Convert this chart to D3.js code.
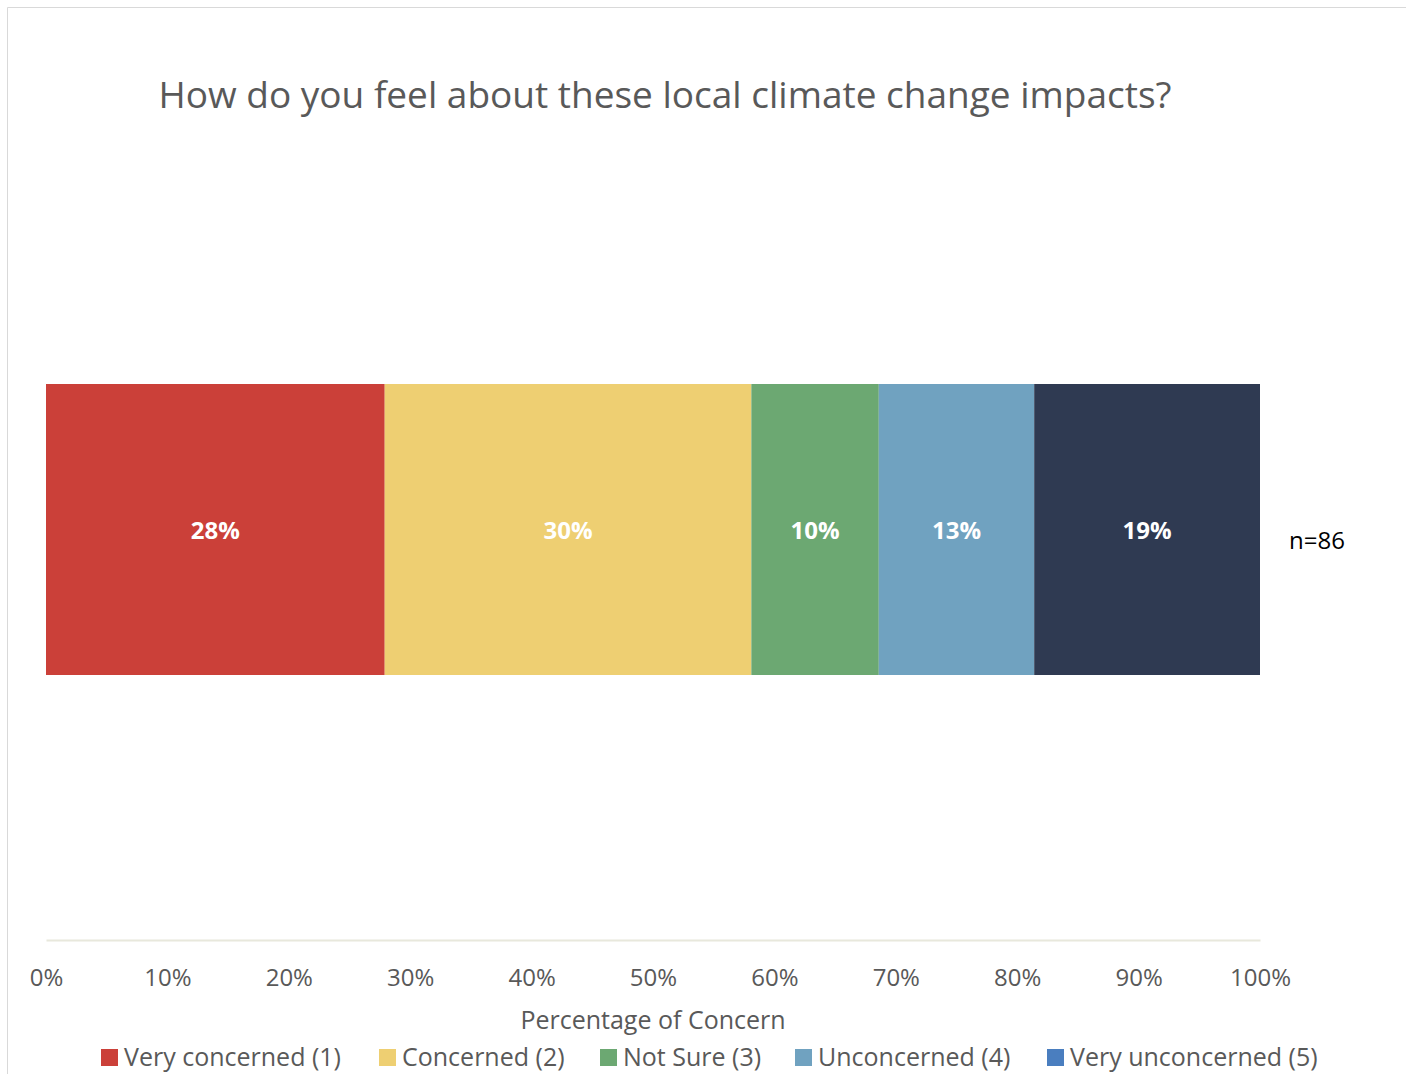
<!DOCTYPE html>
<html><head><meta charset="utf-8">
<script src="https://cdn.jsdelivr.net/npm/d3@7"></script>
<style>body{margin:0;background:#fff;font-family:"Open Sans",sans-serif;}</style>
</head><body><div id="chart"></div>
<script>
const categories = ["Very concerned (1)", "Concerned (2)", "Not Sure (3)", "Unconcerned (4)", "Very unconcerned (5)"];
const values = [27.9, 30.2, 10.5, 12.8, 18.6];
const labels = ["28%", "30%", "10%", "13%", "19%"];
const colors = ["#cb4039", "#eecf72", "#6ca872", "#70a2c0", "#2f3a52"];
const legendColors = ["#cb4039", "#eecf72", "#6ca872", "#70a2c0", "#4a7ebf"];
const ticks = [0, 10, 20, 30, 40, 50, 60, 70, 80, 90, 100];

const width = 1406, height = 1074;
const margin = {left: 46, right: 146};

const viz = d3.select("#chart").append("svg")
    .attr("width", width).attr("height", height);

viz.append("path").attr("d", "M7.5,1074 V7.5 H1406")
    .attr("fill", "none").attr("stroke", "#d9d9d9");

viz.append("text").attr("x", 665).attr("y", 108).attr("text-anchor", "middle")
    .attr("font-size", 37).attr("fill", "#595959")
    .text("How do you feel about these local climate change impacts?");

const xScale = d3.scaleLinear().domain([0, 100]).range([margin.left, width - margin.right]);

// stacked segments
let acc = 0;
const segs = values.map(function(v, i) {
    const s = {start: acc, end: acc + v, i: i};
    acc += v;
    return s;
});

viz.selectAll("rect.seg").data(segs).enter().append("rect")
    .attr("class", "seg")
    .attr("x", function(d) { return xScale(d.start); })
    .attr("width", function(d) { return xScale(d.end) - xScale(d.start); })
    .attr("y", 384).attr("height", 291)
    .attr("fill", function(d) { return colors[d.i]; });

viz.selectAll("text.lab").data(segs).enter().append("text")
    .attr("x", function(d) { return (xScale(d.start) + xScale(d.end)) / 2; })
    .attr("y", 539).attr("text-anchor", "middle")
    .attr("font-size", 24).attr("font-weight", "bold").attr("fill", "#fff")
    .text(function(d) { return labels[d.i]; });

viz.append("text").attr("x", 1289).attr("y", 549)
    .attr("font-size", 24).attr("fill", "#000").text("n=86");

// axis
const xAxis = viz.append("g").attr("transform", "translate(0,940)")
    .call(d3.axisBottom(xScale).tickValues(ticks).tickSize(0).tickPadding(29)
        .tickFormat(function(d) { return d + "%"; }));
xAxis.select(".domain").attr("stroke", "#e8e8dc").attr("stroke-width", 2);
xAxis.selectAll("text").attr("font-size", 24).attr("fill", "#595959")
    .attr("font-family", "Open Sans, sans-serif");

viz.append("text").attr("x", 653).attr("y", 1029).attr("text-anchor", "middle")
    .attr("font-size", 25).attr("fill", "#595959").text("Percentage of Concern");

// legend
const legendX = [101, 379, 600, 795, 1047];
const lg = viz.selectAll("g.leg").data(categories).enter().append("g")
    .attr("transform", function(d, i) { return "translate(" + legendX[i] + ",1049)"; });
lg.append("rect").attr("width", 17).attr("height", 17)
    .attr("fill", function(d, i) { return legendColors[i]; });
lg.append("text").attr("x", 23).attr("y", 17).attr("font-size", 25).attr("fill", "#595959")
    .text(function(d) { return d; });
</script></body></html>
